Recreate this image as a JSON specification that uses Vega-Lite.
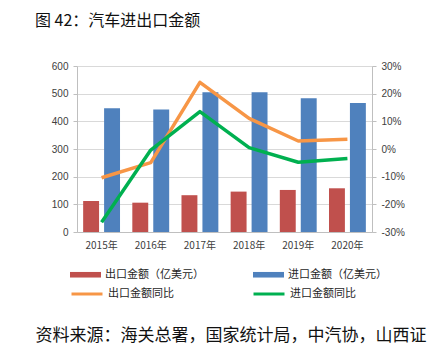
{
  "$schema": "https://vega.github.io/schema/vega-lite/v6.json",
  "autosize": {"type": "none"},
  "width": 295,
  "height": 166,
  "padding": {"left": 77, "top": 66, "right": 61, "bottom": 132},
  "background": "white",
  "title": {
    "text": "图 42：汽车进出口金额",
    "orient": "top",
    "anchor": "start",
    "frame": "group",
    "dx": -42,
    "offset": 32,
    "font": "Noto Sans CJK SC",
    "fontSize": 16,
    "fontWeight": "normal",
    "color": "#111111"
  },
  "datasets": {
    "bars": [
      {"year": "2015年", "series": "出口金额（亿美元）", "value": 112},
      {"year": "2015年", "series": "进口金额（亿美元）", "value": 447},
      {"year": "2016年", "series": "出口金额（亿美元）", "value": 106},
      {"year": "2016年", "series": "进口金额（亿美元）", "value": 443},
      {"year": "2017年", "series": "出口金额（亿美元）", "value": 133},
      {"year": "2017年", "series": "进口金额（亿美元）", "value": 505},
      {"year": "2018年", "series": "出口金额（亿美元）", "value": 146},
      {"year": "2018年", "series": "进口金额（亿美元）", "value": 505},
      {"year": "2019年", "series": "出口金额（亿美元）", "value": 152},
      {"year": "2019年", "series": "进口金额（亿美元）", "value": 483},
      {"year": "2020年", "series": "出口金额（亿美元）", "value": 158},
      {"year": "2020年", "series": "进口金额（亿美元）", "value": 466}
    ],
    "lines": [
      {"year": "2015年", "series": "出口金额同比", "pct": -10.4},
      {"year": "2016年", "series": "出口金额同比", "pct": -4.9},
      {"year": "2017年", "series": "出口金额同比", "pct": 24.1},
      {"year": "2018年", "series": "出口金额同比", "pct": 11.1},
      {"year": "2019年", "series": "出口金额同比", "pct": 2.9},
      {"year": "2020年", "series": "出口金额同比", "pct": 3.5},
      {"year": "2015年", "series": "进口金额同比", "pct": -26.5},
      {"year": "2016年", "series": "进口金额同比", "pct": -0.4},
      {"year": "2017年", "series": "进口金额同比", "pct": 13.5},
      {"year": "2018年", "series": "进口金额同比", "pct": 0.5},
      {"year": "2019年", "series": "进口金额同比", "pct": -4.8},
      {"year": "2020年", "series": "进口金额同比", "pct": -3.4}
    ]
  },
  "layer": [
    {
      "data": {"name": "bars"},
      "mark": {"type": "bar"},
      "encoding": {
        "x": {
          "field": "year",
          "type": "nominal",
          "scale": {"paddingInner": 0.25, "paddingOuter": 0.125},
          "axis": {
            "labelAngle": 0,
            "ticks": false,
            "domain": true,
            "domainColor": "#BFBFBF",
            "labelFont": "Noto Sans CJK SC",
            "labelFontSize": 10,
            "labelColor": "#404040",
            "labelPadding": 8,
            "title": "资料来源：海关总署，国家统计局，中汽协，山西证",
            "titleX": -42,
            "titleY": 103,
            "titleAlign": "left",
            "titleAnchor": "start",
            "titleBaseline": "middle",
            "titleFont": "Noto Sans CJK SC",
            "titleFontSize": 17,
            "titleFontWeight": "normal",
            "titleColor": "#111111"
          }
        },
        "xOffset": {
          "field": "series",
          "type": "nominal",
          "scale": {"domain": ["出口金额（亿美元）", "进口金额（亿美元）"], "paddingInner": 0.24, "paddingOuter": 0}
        },
        "y": {
          "field": "value",
          "type": "quantitative",
          "scale": {"domain": [0, 600], "nice": false},
          "axis": {
            "values": [0, 100, 200, 300, 400, 500, 600],
            "title": null,
            "grid": true,
            "gridColor": "#D9D9D9",
            "domain": true,
            "domainColor": "#BFBFBF",
            "tickColor": "#BFBFBF",
            "tickSize": 4,
            "labelPadding": 5,
            "labelFont": "Liberation Sans",
            "labelFontSize": 10,
            "labelColor": "#404040"
          }
        },
        "color": {
          "field": "series",
          "type": "nominal",
          "scale": {"domain": ["出口金额（亿美元）", "进口金额（亿美元）"], "range": ["#C0504D", "#4F81BD"]},
          "legend": {
            "orient": "none",
            "legendX": -7,
            "legendY": 193,
            "direction": "horizontal",
            "columns": 2,
            "columnPadding": 49,
            "title": null,
            "symbolType": "M-1,-0.18H1V0.18H-1Z",
            "symbolSize": 961,
            "symbolStrokeWidth": 0,
            "labelOffset": 4,
            "labelFont": "Noto Sans CJK SC",
            "labelFontSize": 11,
            "labelColor": "#262626"
          }
        }
      }
    },
    {
      "data": {"name": "lines"},
      "mark": {"type": "line", "strokeWidth": 3.5, "strokeJoin": "round"},
      "encoding": {
        "x": {"field": "year", "type": "nominal"},
        "y": {
          "field": "pct",
          "type": "quantitative",
          "scale": {"domain": [-30, 30], "nice": false},
          "axis": {
            "orient": "right",
            "values": [-30, -20, -10, 0, 10, 20, 30],
            "labelExpr": "datum.value + '%'",
            "title": null,
            "grid": false,
            "domain": true,
            "domainColor": "#BFBFBF",
            "tickColor": "#BFBFBF",
            "tickSize": 4,
            "labelPadding": 5,
            "labelFont": "Liberation Sans",
            "labelFontSize": 10,
            "labelColor": "#404040"
          }
        },
        "stroke": {
          "field": "series",
          "type": "nominal",
          "scale": {"domain": ["出口金额同比", "进口金额同比"], "range": ["#F79646", "#00B050"]},
          "legend": {
            "orient": "none",
            "legendX": -7,
            "legendY": 211,
            "direction": "horizontal",
            "columns": 2,
            "columnPadding": 73,
            "title": null,
            "symbolType": "stroke",
            "symbolSize": 961,
            "symbolStrokeWidth": 3,
            "labelOffset": 4,
            "labelFont": "Noto Sans CJK SC",
            "labelFontSize": 11,
            "labelColor": "#262626"
          }
        }
      }
    }
  ],
  "resolve": {"scale": {"y": "independent", "color": "independent", "stroke": "independent"}},
  "config": {
    "view": {"stroke": null}
  }
}
